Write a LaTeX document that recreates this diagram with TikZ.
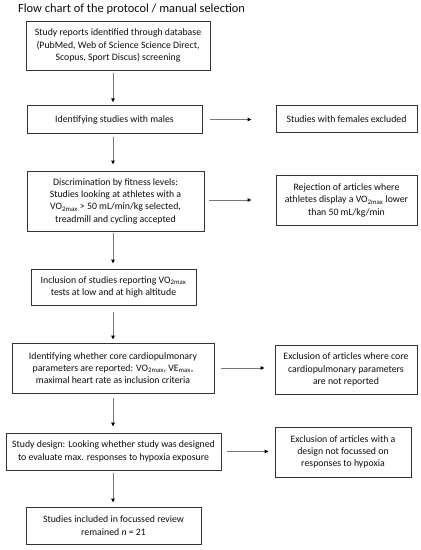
\documentclass[tikz,border=0pt]{standalone}
\usepackage{fontspec}
\setmainfont{Carlito}
\usetikzlibrary{arrows.meta}
\definecolor{txt}{HTML}{0E0E0E}
\definecolor{frame}{HTML}{333333}
\definecolor{lin}{HTML}{777777}
\begin{document}
\begin{tikzpicture}[x=1pt,y=-1pt,
  box/.style={draw=frame,line width=0.9pt,inner sep=0pt,align=center,text=txt,
    font=\fontsize{9.8}{12.3}\selectfont},
  conn/.style={draw=lin,line width=0.9pt,-{Triangle[length=4pt,width=3.6pt,fill=black,color=black]}}
]
\useasboundingbox (0,0) rectangle (421,550);
\fill[white] (0,0) rectangle (421,550);
\node[anchor=base west,inner sep=0pt,text=txt,font=\fontsize{12.4}{14}\selectfont] (title) at (18,12.7) {Flow chart of the protocol / manual selection};
\coordinate (axis) at (113,0);

\node[box,minimum width=184pt,minimum height=49pt] (b1) at (118,45.5)
  {Study reports identified through database\\(PubMed, Web of Science Science Direct,\\Scopus, Sport Discus) screening};
\node[box,minimum width=175pt,minimum height=27.6pt] (b2) at (114.5,119.5)
  {Identifying studies with males};
\node[box,minimum width=141pt,minimum height=27.3pt] (r1) at (346.5,118.7)
  {Studies with females excluded};
\node[box,minimum width=177pt,minimum height=60pt] (b3) at (115.5,201)
  {Discrimination by fitness levels:\\Studies looking at athletes with a\\VO\textsubscript{2max} > 50 mL/min/kg selected,\\treadmill and cycling accepted};
\node[box,minimum width=141pt,minimum height=49.3pt] (r2) at (346.5,200.3)
  {Rejection of articles where\\athletes display a VO\textsubscript{2max} lower\\than 50 mL/kg/min};
\node[box,minimum width=165pt,minimum height=36pt] (b4) at (113.5,287)
  {Inclusion of studies reporting VO\textsubscript{2max}\\tests at low and at high altitude};
\node[box,minimum width=202pt,minimum height=50pt] (b5) at (113,368)
  {Identifying whether core cardiopulmonary\\parameters are reported: VO\textsubscript{2max}, VE\textsubscript{max},\\maximal heart rate as inclusion criteria};
\node[box,minimum width=142pt,minimum height=49pt] (r3) at (346,369.5)
  {Exclusion of articles where core\\cardiopulmonary parameters\\are not reported};
\node[box,minimum width=215pt,minimum height=37pt] (b6) at (113.5,451.5)
  {Study design: Looking whether study was designed\\to evaluate max. responses to hypoxia exposure};
\node[box,minimum width=136pt,minimum height=50pt] (r4) at (343,452)
  {Exclusion of articles with a\\design not focussed on\\responses to hypoxia};
\node[box,minimum width=175pt,minimum height=37pt] (b7) at (113.5,525.5)
  {Studies included in focussed review\\remained \textit{n} = 21};

% vertical connectors
\draw[conn,shorten <=3pt,shorten >=3pt] (b1.south -| axis) -- (b2.north -| axis);
\draw[conn,shorten <=3pt,shorten >=6pt] (b2.south -| axis) -- (b3.north -| axis);
\draw[conn,shorten <=2pt,shorten >=5pt] (b3.south -| axis) -- (b4.north -| axis);
\draw[conn,shorten <=7pt,shorten >=3pt] (b4.south -| axis) -- (b5.north -| axis);
\draw[conn,shorten <=5pt,shorten >=6pt] (b5.south -| axis) -- (b6.north -| axis);
\draw[conn,shorten <=3pt,shorten >=4pt] (b6.south -| axis) -- (b7.north -| axis);
% horizontal connectors
\draw[conn,shorten <=8pt,shorten >=24pt] (b2.east) -- (b2.east -| r1.west);
\draw[conn,shorten <=5pt,shorten >=24pt] ([yshift=1pt]b3.east) -- ([yshift=1pt]b3.east -| r2.west);
\draw[conn,shorten <=7pt,shorten >=10pt] (b5.east) -- (b5.east -| r3.west);
\draw[conn,shorten <=6pt,shorten >=6pt] (b6.east) -- (b6.east -| r4.west);
\end{tikzpicture}
\end{document}
